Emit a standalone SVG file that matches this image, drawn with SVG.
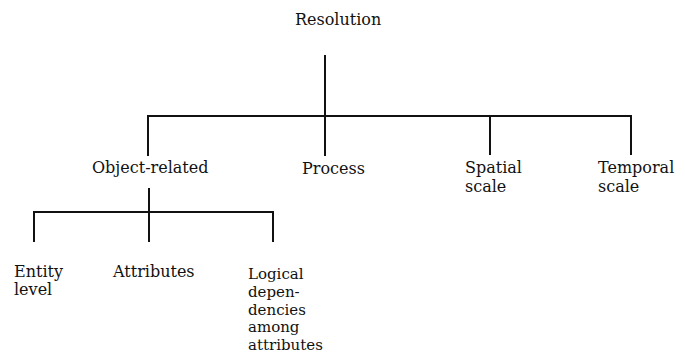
<svg xmlns="http://www.w3.org/2000/svg" width="685" height="363" viewBox="0 0 685 363">
<style>
text{font-family:"DejaVu Serif","Liberation Serif",serif;font-size:16px;fill:#111}
.s{font-size:15px}
.c{stroke:#111;stroke-width:2;fill:none}
</style>
<rect width="685" height="363" fill="#fff"/>
<g id="connectors">
<path class="c" d="M325 55V156M148 156V116H631V155M490 116V155"/>
<path class="c" d="M149 188V242M34 242V212H273V242"/>
</g>
<g id="resolution"><text x="295" y="25">Resolution</text></g>
<g id="object-related"><text x="92" y="173">Object-related</text></g>
<g id="process"><text x="302" y="174">Process</text></g>
<g id="spatial"><text x="465" y="173">Spatial</text><text x="465" y="192">scale</text></g>
<g id="temporal"><text x="598" y="173">Temporal</text><text x="598" y="192">scale</text></g>
<g id="entity"><text x="14" y="277">Entity</text><text x="14" y="295">level</text></g>
<g id="attributes"><text x="113" y="277">Attributes</text></g>
<g id="logical" class="s"><text class="s" x="248" y="279">Logical</text><text class="s" x="248" y="296.75">depen-</text><text class="s" x="248" y="314.5">dencies</text><text class="s" x="248" y="332.25">among</text><text class="s" x="248" y="350">attributes</text></g>
</svg>
